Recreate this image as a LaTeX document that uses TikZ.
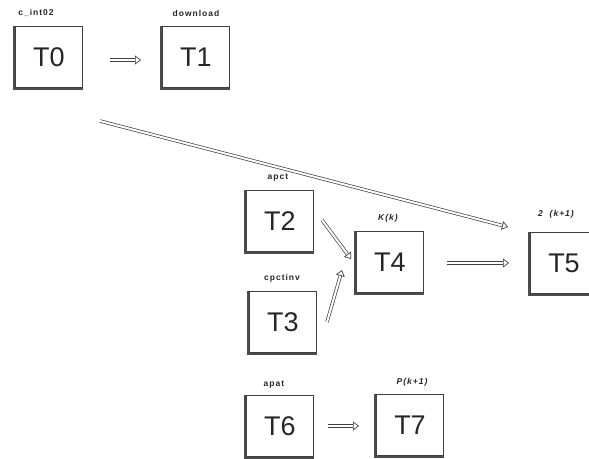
\documentclass[tikz,border=0pt]{standalone}
\usepackage{fontspec}
\setmainfont{Liberation Sans}
\newfontfamily\lblfont[LetterSpace=12]{Liberation Sans}
\usetikzlibrary{arrows.meta}
\tikzset{
  tbox/.style={draw=black!75, line width=0.7pt, minimum width=67pt, minimum height=61pt, inner sep=0pt, font=\fontsize{27}{27}\selectfont, text=black!85},
  tlabel/.style={font=\lblfont\bfseries\fontsize{8.5}{9}\selectfont, text=black!85},
  hollow/.style={draw=black!75, line width=0.7pt, double=white, double distance=2pt, -{Triangle[open, length=6pt, width=9pt]}},
  shad/.style={draw=black!70, line width=2pt}
}
\newcommand{\boxshadow}[1]{\draw[shad] ([xshift=-1pt]#1.north west) -- ([xshift=-1pt,yshift=-1pt]#1.south west) -- ([yshift=-1pt]#1.south east);}
\begin{document}
\begin{tikzpicture}[x=1pt,y=-1pt]
\useasboundingbox (0,0) rectangle (589,458);
\clip (0,0) rectangle (589,458);
\node[tbox] (T0) at (49,57) {T0};
\node[tbox] (T1) at (196,57) {T1};
\node[tbox] (T2) at (280,221) {T2};
\node[tbox] (T3) at (283,322) {T3};
\node[tbox] (T4) at (390,262) {T4};
\node[tbox] (T5) at (564,263) {T5};
\node[tbox] (T6) at (280,426) {T6};
\node[tbox] (T7) at (410,425) {T7};
\foreach \n in {T0,T1,T2,T3,T4,T5,T6,T7}{\boxshadow{\n}}
\node[tlabel] (L0) at (36,13) {c\_int02};
\node[tlabel] (L1) at (196,13) {download};
\node[tlabel] (L2) at (278,178) {apct};
\node[tlabel] (L3) at (282,278) {cpctinv};
\node[tlabel] (L4) at (388,218) {\itshape K(k)};
\node[tlabel] (L5) at (556,214) {\itshape 2 \ (k+1)};
\node[tlabel] (L6) at (274,385) {apat};
\node[tlabel] (L7) at (412,382) {\itshape P(k+1)};
\coordinate (a0s) at (110,60); \coordinate (a0e) at (141,60);
\coordinate (a1s) at (100,121); \coordinate (a1e) at (508,227);
\coordinate (a2s) at (322,220); \coordinate (a2e) at (351,259);
\coordinate (a3s) at (327,322); \coordinate (a3e) at (342,270);
\coordinate (a4s) at (447,263); \coordinate (a4e) at (509,263);
\coordinate (a6s) at (328,426); \coordinate (a6e) at (359,426);
\draw[hollow] (a0s) -- (a0e);
\draw[hollow] (a1s) -- (a1e);
\draw[hollow] (a2s) -- (a2e);
\draw[hollow] (a3s) -- (a3e);
\draw[hollow] (a4s) -- (a4e);
\draw[hollow] (a6s) -- (a6e);
\end{tikzpicture}
\end{document}
